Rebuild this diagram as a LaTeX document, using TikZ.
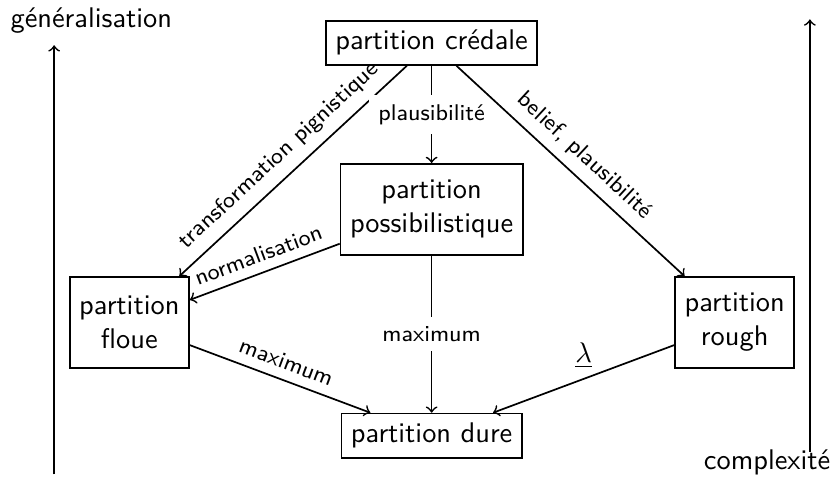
\documentclass[tikz,border=0pt]{standalone}
\usepackage{amsmath, amssymb}
\usepackage{tikz}
\renewcommand{\familydefault}{\sfdefault}

\tikzset{
  partbox/.style={draw, semithick, align=center},
  twoline/.style={partbox, minimum height=32pt},
  lab/.style={font=\footnotesize},
}

\begin{document}
\begin{tikzpicture}[>=to, semithick]
    \useasboundingbox (0,0) rectangle (10.38,6.02);

    % the partitions
    \node[partbox] (credale) at (5.34,5.49) {partition crédale};
    \node[twoline] (possib) at (5.34,3.43) {partition\\possibilistique};
    \node[twoline] (floue) at (1.60,2.03) {partition\\floue};
    \node[twoline] (rough) at (9.09,2.03) {partition\\rough};
    \node[partbox] (dure) at (5.34,0.63) {partition dure};

    % how one goes from one to the other
    \draw[->] (credale) -- node[lab, sloped, above] {transformation pignistique} (floue);
    \draw[->] (credale) -- node[lab, fill=white] {plausibilité} (possib);
    \draw[->] (credale) -- node[lab, sloped, above] {belief, plausibilité} (rough);
    \draw[->] (possib) -- node[lab, sloped, above] {normalisation} (floue);
    \draw[->] (floue) -- node[lab, sloped, above] {maximum} (dure);
    \draw[->] (possib) -- node[lab, fill=white] {maximum} (dure);
    \draw[->] (rough) -- node[above] {$\underline{\lambda}$} (dure);

    % the two axes
    \coordinate (gen0) at (0.67,0.15);
    \coordinate (gen1) at (0.67,5.46);
    \draw[->] (gen0) -- (gen1);
    \node[anchor=base] (gen) at (1.13,5.68) {généralisation};

    \coordinate (cpx0) at (10.02,0.43);
    \coordinate (cpx1) at (10.02,5.78);
    \draw[->] (cpx0) -- (cpx1);
    \node[anchor=base] (cpx) at (9.49,0.21) {complexité};
\end{tikzpicture}
\end{document}
